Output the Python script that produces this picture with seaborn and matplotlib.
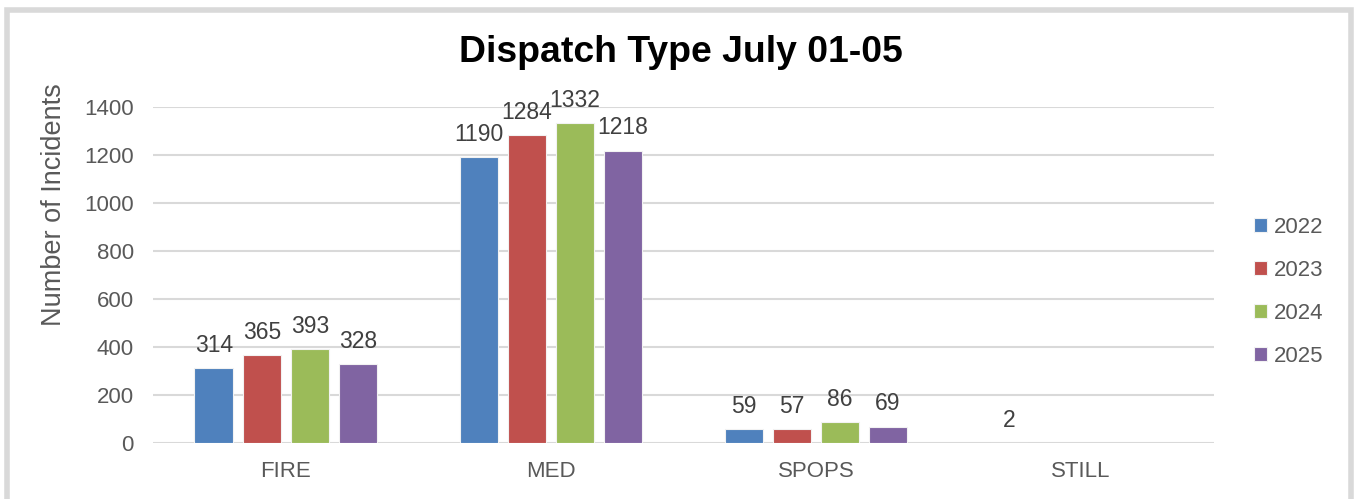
import numpy as np
import pandas as pd
import matplotlib.pyplot as plt
import seaborn as sns
from matplotlib.patches import Rectangle

# data
types = ['FIRE', 'MED', 'SPOPS', 'STILL']
years = ['2022', '2023', '2024', '2025']
y2022 = [314, 1190, 59, 2]
y2023 = [365, 1284, 57, np.nan]
y2024 = [393, 1332, 86, np.nan]
y2025 = [328, 1218, 69, np.nan]
colors = ['#4F81BD', '#C0504D', '#9BBB59', '#8064A2']

rows = []
for yr, vals in zip(years, [y2022, y2023, y2024, y2025]):
    for t, v in zip(types, vals):
        rows.append({'type': t, 'year': yr, 'count': v})
df = pd.DataFrame(rows).dropna()

sns.set_style('white')
plt.rcParams['font.family'] = ['Liberation Sans', 'DejaVu Sans']
txt = '#595959'

fig = plt.figure(figsize=(13.56, 4.99), dpi=100)
ax = fig.add_axes([0.113, 0.112, 0.782, 0.674])

sns.barplot(data=df, x='type', y='count', hue='year', order=types,
            hue_order=years, palette=colors, width=0.725, gap=0.2,
            saturation=1, edgecolor='#F2F2F2', linewidth=0.8, ax=ax)

for c in ax.containers:
    ax.bar_label(c, fmt='%d', padding=8, fontsize=16.5, color='#404040')

ax.set_ylim(0, 1400)
ax.set_xlim(-0.5, 3.5)
ax.set_yticks(np.arange(0, 1401, 200))
ax.yaxis.grid(True, color='#D9D9D9', lw=1.5)
ax.set_axisbelow(True)
for s in ax.spines.values():
    s.set_visible(False)
ax.tick_params(axis='both', length=0, labelsize=16, labelcolor=txt)
ax.tick_params(axis='y', pad=14)
ax.tick_params(axis='x', pad=13)
ax.set_xlabel('')
ax.set_ylabel('Number of Incidents', fontsize=19.5, color=txt)
ax.yaxis.set_label_coords(-0.081, 0.71)

ax.legend(loc='center left', bbox_to_anchor=(0.91, 0.415),
          bbox_transform=fig.transFigure, frameon=False, fontsize=16,
          handlelength=0.6, handleheight=0.6, handletextpad=0.3,
          labelspacing=0.98, labelcolor=txt)

fig.text(0.502, 0.895, 'Dispatch Type July 01-05', ha='center', va='center',
         fontsize=26.9, fontweight='bold', color='black')

fig.patches.append(Rectangle((0.0055, -0.05), 0.9905, 1.03,
                             transform=fig.transFigure, fill=False,
                             edgecolor='#D9D9D9', lw=4))

fig.savefig('out.png', dpi=100)
